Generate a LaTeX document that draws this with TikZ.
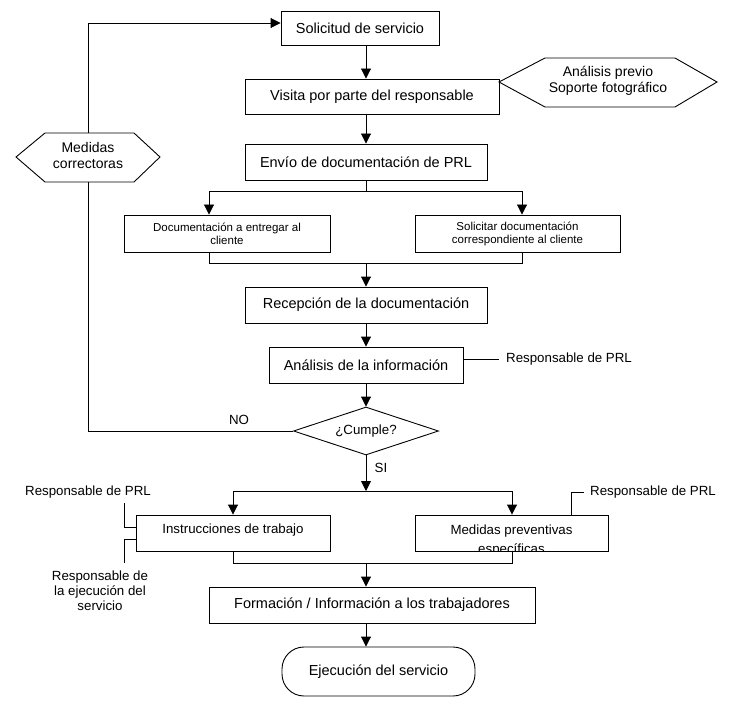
\documentclass[tikz,border=0pt]{standalone}
\usepackage{fontspec}
\setmainfont{Liberation Sans}
\usetikzlibrary{arrows.meta,shapes.geometric}
\begin{document}
\begin{tikzpicture}[x=1pt,y=-1pt,
  box/.style={draw, line width=0.9pt, inner sep=0pt, align=center},
  big/.style={font=\fontsize{14.5}{17}\selectfont},
  mid/.style={font=\fontsize{13.3}{15}\selectfont, align=center, inner sep=0pt},
  sml/.style={font=\fontsize{11.5}{13}\selectfont},
  hexf/.style={font=\fontsize{14}{16}\selectfont, align=center, inner sep=0pt},
  arr/.style={-{Triangle[length=10pt,width=10pt]}, line width=0.9pt},
  ln/.style={line width=0.9pt}]
\useasboundingbox[fill=white] (0,0) rectangle (731,714);
\coordinate (ax) at (366,0);
% boxes
\node[box,big,minimum width=158,minimum height=34] (sol) at (360,28) {Solicitud de servicio};
\node[box,big,minimum width=254,minimum height=35] (vis) at (372,96.5) {Visita por parte del responsable};
\node[box,big,minimum width=242,minimum height=36] (env) at (366,162) {Envío de documentación de PRL};
\node[box,sml,minimum width=206,minimum height=37] (doc) at (227,233.5) {Documentación a entregar al\\cliente};
\node[box,sml,minimum width=205,minimum height=37] (solc) at (517.5,233.5) {Solicitar documentación\\correspondiente al cliente};
\node[box,big,minimum width=242,minimum height=36] (rec) at (366,305) {Recepción de la documentación};
\node[box,big,minimum width=194,minimum height=36] (ana) at (366,365) {Análisis de la información};
\node[draw, line width=0.9pt, diamond, aspect=3, minimum width=145, minimum height=48, inner sep=0pt, font=\fontsize{13.3}{15}\selectfont] (dia) at (366,431) {¿Cumple?};
\node[box,minimum width=194,minimum height=36] (ins) at (233,533) {};
\node[mid] (inst) at (233,530) {Instrucciones de trabajo};
\node[box,minimum width=193,minimum height=36] (med) at (511.5,533) {};
\begin{scope}
\clip (416,516) rectangle (607,550);
\node[mid, font=\fontsize{13.3}{19}\selectfont] (medt) at (511.5,541) {Medidas preventivas\\específicas};
\end{scope}
\node[box,big,minimum width=326,minimum height=36] (for) at (372,605) {Formación / Información a los trabajadores};
\node[box,big,minimum width=193,minimum height=49,rounded corners=22pt] (eje) at (378.5,671.5) {Ejecución del servicio};
% hexagons
\draw[ln] (499,82) -- (545,58) -- (675,58) -- (717,82) -- (675,107) -- (545,107) -- cycle;
\node[hexf] (hxa) at (608,81) {Análisis previo\\Soporte fotográfico};
\draw[ln] (16,157) -- (45,133) -- (134,133) -- (160,157) -- (134,182) -- (45,182) -- cycle;
\node[hexf] (hxm) at (88,155) {Medidas\\correctoras};
\coordinate (hmt) at (88,133);
\coordinate (hmb) at (88,182);
% main connectors
\draw[arr] (sol.south -| ax) -- (vis.north -| ax);
\draw[arr] (vis.south -| ax) -- (env.north -| ax);
\coordinate (s1) at (366,191); \coordinate (sL) at (209,191); \coordinate (sR) at (522,191);
\draw[ln] (env.south -| ax) -- (s1);
\draw[arr] (s1) -- (sL) -- (doc.north -| sL);
\draw[arr] (s1) -- (sR) -- (solc.north -| sR);
\coordinate (m1) at (366,263); \coordinate (mL) at (209,263); \coordinate (mR) at (522,263);
\draw[ln] (doc.south -| mL) -- (mL) -- (mR) -- (solc.south -| mR);
\draw[arr] (m1) -- (rec.north -| m1);
\draw[arr] (rec.south -| ax) -- (ana.north -| ax);
\draw[arr] (ana.south -| ax) -- (dia.north);
% Responsable PRL right of analisis
\coordinate (ar) at (499,359);
\draw[ln] (ana.east |- ar) -- (ar);
\node[mid, anchor=west] (r1) at (506,359) {Responsable de PRL};
% NO loop
\coordinate (nL) at (88,431); \coordinate (tl) at (88,23);
\draw[ln] (dia.west) -- (nL) -- (hmb);
\draw[arr] (hmt) -- (tl) -- (sol.west |- tl);
\node[mid] (no) at (239,420) {NO};
\node[mid] (si) at (381,468) {SI};
% SI branch
\coordinate (t1) at (366,491); \coordinate (tL) at (233,491); \coordinate (tR) at (512,491);
\draw[arr] (dia.south) -- (t1);
\draw[arr] (t1) -- (tL) -- (ins.north -| tL);
\draw[arr] (t1) -- (tR) -- (med.north -| tR);
\coordinate (b1) at (366,563); \coordinate (bL) at (233,563); \coordinate (bR) at (512,563);
\draw[ln] (ins.south -| bL) -- (bL) -- (bR) -- (med.south -| bR);
\draw[arr] (b1) -- (for.north -| b1);
\draw[arr] (for.south -| ax) -- (eje.north -| ax);
% left annotations
\node[mid] (rl) at (88,492) {Responsable de PRL};
\coordinate (la1) at (124,503); \coordinate (la2) at (124,527);
\draw[ln] (la1) -- (la2) -- (ins.west |- la2);
\coordinate (lb1) at (124,539); \coordinate (lb2) at (124,563);
\draw[ln] (ins.west |- lb1) -- (lb1) -- (lb2);
\node[mid] (re) at (100,591) {Responsable de\\la ejecución del\\servicio};
% right annotation
\coordinate (ra1) at (571,492); \coordinate (ra2) at (584,492);
\draw[ln] (med.north -| ra1) -- (ra1) -- (ra2);
\node[mid, anchor=west] (rr) at (590,492) {Responsable de PRL};
\end{tikzpicture}
\end{document}
